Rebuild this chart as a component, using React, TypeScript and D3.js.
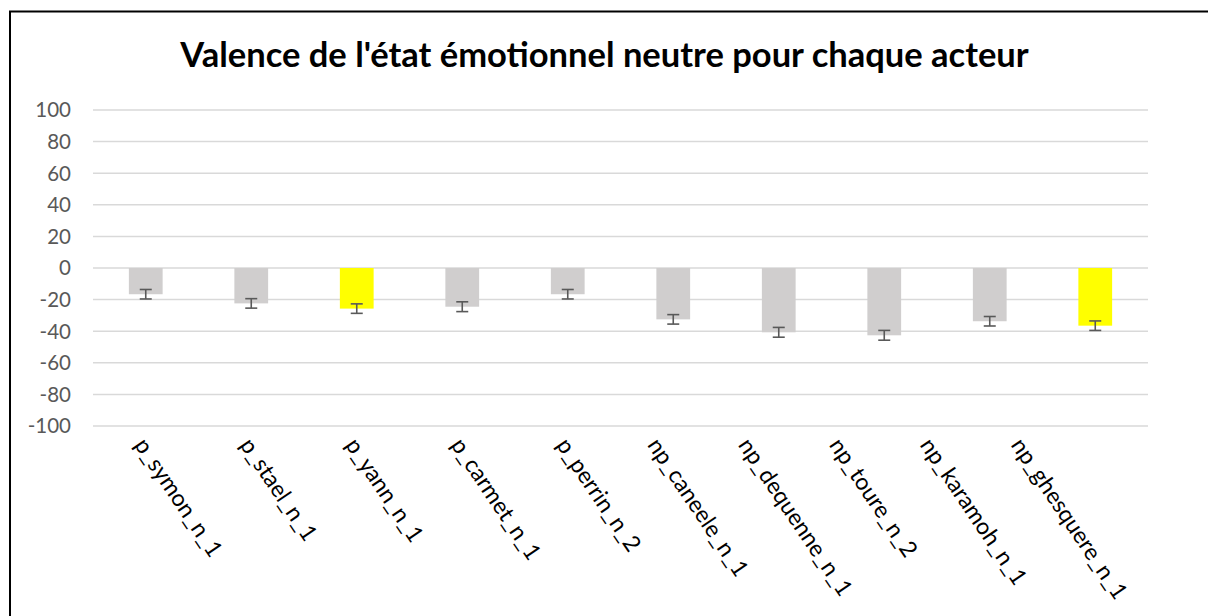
import React, { useEffect, useRef } from 'react';
import * as d3 from 'd3';

const actors = [
  'p_symon_n_1',
  'p_stael_n_1',
  'p_yann_n_1',
  'p_carmet_n_1',
  'p_perrin_n_2',
  'np_caneele_n_1',
  'np_dequenne_n_1',
  'np_toure_n_2',
  'np_karamoh_n_1',
  'np_ghesquere_n_1',
];
const valence = [-16.6, -22.4, -25.7, -24.5, -16.6, -32.5, -40.7, -42.6, -33.7, -36.5];
const errors = [3, 3, 3, 3.1, 3, 3, 3.1, 3.1, 3, 3];
const highlighted = ['p_yann_n_1', 'np_ghesquere_n_1'];
const yTicks = [100, 80, 60, 40, 20, 0, -20, -40, -60, -80, -100];

const title = "Valence de l'état émotionnel neutre pour chaque acteur";

const W = 1208;
const H = 616;

const App = () => {
  const svgRef = useRef<SVGSVGElement>(null);

  useEffect(() => {
    const svg = d3.select(svgRef.current);
    svg.selectAll('*').remove();

    const left = 93;
    const right = 1148;
    const top = 110;
    const bottom = 426;

    const x = d3.scaleBand().domain(actors).range([left, right]).paddingInner(0.68).paddingOuter(0.34);
    const y = d3.scaleLinear().domain([-100, 100]).range([bottom, top]);
    const font = 'Lato, Calibri, Carlito, sans-serif';

    // chart frame (runs off the right and bottom of the picture)
    svg.append('rect')
      .attr('x', 10).attr('y', 11.5)
      .attr('width', W + 20).attr('height', H + 20)
      .attr('fill', '#fff').attr('stroke', '#000').attr('stroke-width', 2);

    svg.append('text')
      .attr('x', 604.5).attr('y', 67)
      .attr('text-anchor', 'middle')
      .style('font-family', font)
      .style('font-weight', 700)
      .style('font-size', '34.5px')
      .attr('fill', '#000')
      .text(title);

    // gridlines
    svg.append('g')
      .selectAll('line')
      .data(yTicks)
      .join('line')
      .attr('x1', left).attr('x2', right)
      .attr('y1', d => y(d)).attr('y2', d => y(d))
      .attr('stroke', '#d9d9d9').attr('stroke-width', 1.5);

    svg.append('g')
      .selectAll('text')
      .data(yTicks)
      .join('text')
      .attr('x', 71).attr('y', d => y(d))
      .attr('dy', '0.36em')
      .attr('text-anchor', 'end')
      .style('font-family', font)
      .style('font-size', '20.5px')
      .attr('fill', '#595959')
      .text(d => String(d));

    const data = actors.map((name, i) => ({ name, value: valence[i], err: errors[i] }));

    svg.append('g')
      .selectAll('rect')
      .data(data)
      .join('rect')
      .attr('x', d => x(d.name)!)
      .attr('width', x.bandwidth())
      .attr('y', d => y(Math.max(0, d.value)))
      .attr('height', d => Math.abs(y(d.value) - y(0)))
      .attr('fill', d => (highlighted.includes(d.name) ? '#ffff00' : '#d0cece'));

    // error bars
    const eb = svg.append('g')
      .attr('stroke', '#595959')
      .attr('stroke-width', 1.6)
      .selectAll('g')
      .data(data)
      .join('g')
      .attr('transform', d => `translate(${x(d.name)! + x.bandwidth() / 2},0)`);
    eb.append('line')
      .attr('y1', d => y(d.value + d.err)).attr('y2', d => y(d.value - d.err));
    eb.append('line')
      .attr('x1', -6).attr('x2', 6)
      .attr('y1', d => y(d.value + d.err)).attr('y2', d => y(d.value + d.err));
    eb.append('line')
      .attr('x1', -6).attr('x2', 6)
      .attr('y1', d => y(d.value - d.err)).attr('y2', d => y(d.value - d.err));

    // rotated category labels; the later ones are pulled left to stay inside the chart
    svg.append('g')
      .selectAll('text')
      .data(actors)
      .join('text')
      .attr('transform', (d, i) => {
        const shift = -12 - Math.max(0, i - 4) * 14.6;
        return `translate(${x(d)! + x.bandwidth() / 2 + shift},${bottom + 19}) rotate(56)`;
      })
      .attr('text-anchor', 'start')
      .style('font-family', font)
      .style('font-size', '23px')
      .attr('fill', '#000')
      .text(d => d);
  }, []);

  return (
    <svg
      ref={svgRef}
      width={W}
      height={H}
      style={{ position: 'absolute', left: 0, top: 0, display: 'block', background: '#fff' }}
    />
  );
};

export default App;
